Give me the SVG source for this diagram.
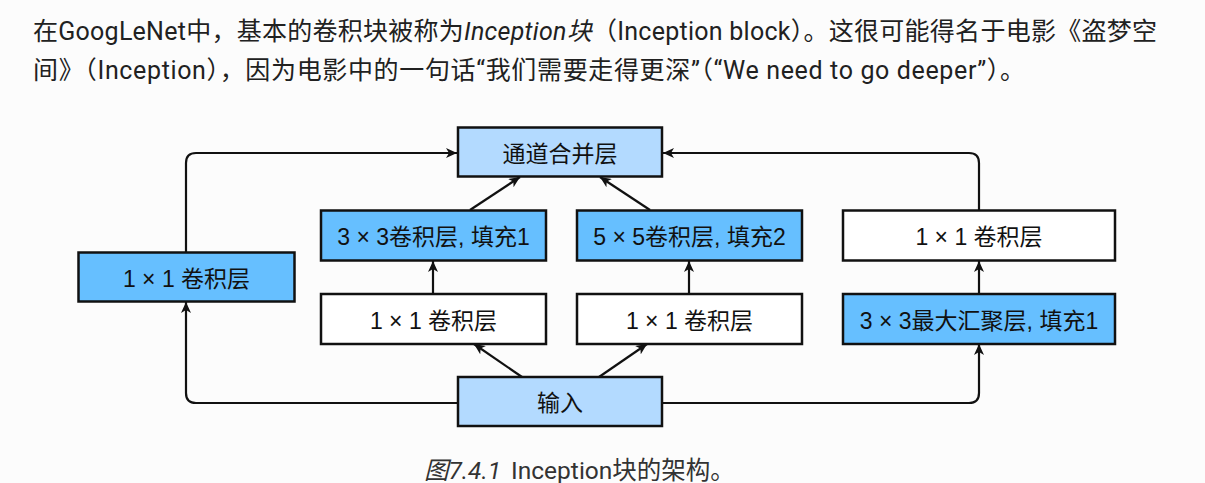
<svg xmlns="http://www.w3.org/2000/svg" width="1205" height="483" viewBox="0 0 1205 483">
<style>
.bg{fill:#fcfcfc}
.para{font-family:Roboto,"Noto Sans CJK SC",sans-serif;font-size:25px;fill:#212121}
.cap{font-family:Roboto,"Noto Sans CJK SC",sans-serif;font-size:24.5px;fill:#333}
.box{stroke:#111;stroke-width:2.5}
.dark{fill:#66bfff}
.light{fill:#b3daff}
.white{fill:#ffffff}
.lbl{font-family:"Liberation Sans","Noto Sans CJK SC",sans-serif;font-size:23px;fill:#111;text-anchor:middle}
.edge{fill:none;stroke:#111;stroke-width:2.2;marker-end:url(#arr)}
</style>
<defs>
<marker id="arr" markerUnits="userSpaceOnUse" markerWidth="12" markerHeight="10" refX="11" refY="5" orient="auto">
<path d="M0,0 L11,5 L0,10 L3,5 z" fill="#111"/>
</marker>
</defs>
<rect class="bg" x="0" y="0" width="1205" height="483"/>
<text class="para" x="33" y="40" textLength="1124" lengthAdjust="spacing">在GoogLeNet中，基本的卷积块被称为<tspan font-style="italic">Inception块</tspan>（Inception block）。这很可能得名于电影《盗梦空</text>
<text class="para" x="33" y="79" textLength="992" lengthAdjust="spacing">间》（Inception），因为电影中的一句话“我们需要走得更深”（“We need to go deeper”）。</text>

<g id="connectors">
<path class="edge" d="M458,403 H196 Q186,403 186,393 V302"/>
<path class="edge" d="M186,252 V163 Q186,153 196,153 H457"/>
<path class="edge" d="M662,403 H969 Q979,403 979,393 V344"/>
<path class="edge" d="M979,294 V261"/>
<path class="edge" d="M979,210 V163 Q979,153 969,153 H663"/>
<path class="edge" d="M522,377 L474,344"/>
<path class="edge" d="M599,377 L647,344"/>
<path class="edge" d="M433,294 V261"/>
<path class="edge" d="M689,294 V261"/>
<path class="edge" d="M470,210 L520,177"/>
<path class="edge" d="M650,210 L600,177"/>
</g>

<g id="concat"><rect class="box light" x="458" y="127.5" width="204" height="49"/><text class="lbl" x="560" y="162">通道合并层</text></g>
<g id="conv3x3"><rect class="box dark" x="321" y="210.5" width="225" height="50"/><text class="lbl" x="433.5" y="245">3 × 3卷积层, 填充1</text></g>
<g id="conv5x5"><rect class="box dark" x="577" y="210.5" width="225" height="50"/><text class="lbl" x="689.5" y="245">5 × 5卷积层, 填充2</text></g>
<g id="conv1x1_right"><rect class="box white" x="843" y="210.5" width="272" height="50"/><text class="lbl" x="979" y="245">1 × 1 卷积层</text></g>
<g id="conv1x1_left"><rect class="box dark" x="78.5" y="252.5" width="216" height="49"/><text class="lbl" x="186.5" y="286.5">1 × 1 卷积层</text></g>
<g id="conv1x1_a"><rect class="box white" x="321" y="294" width="225" height="50"/><text class="lbl" x="433.5" y="328.5">1 × 1 卷积层</text></g>
<g id="conv1x1_b"><rect class="box white" x="577" y="294" width="225" height="50"/><text class="lbl" x="689.5" y="328.5">1 × 1 卷积层</text></g>
<g id="maxpool"><rect class="box dark" x="843" y="294" width="272" height="50"/><text class="lbl" x="979" y="328.5">3 × 3最大汇聚层, 填充1</text></g>
<g id="input"><rect class="box light" x="458" y="377" width="204" height="49"/><text class="lbl" x="560" y="411">输入</text></g>

<text class="cap" x="424" y="479"><tspan font-style="italic">图7.4.1</tspan><tspan dx="10">Inception块的架构。</tspan></text>
</svg>
